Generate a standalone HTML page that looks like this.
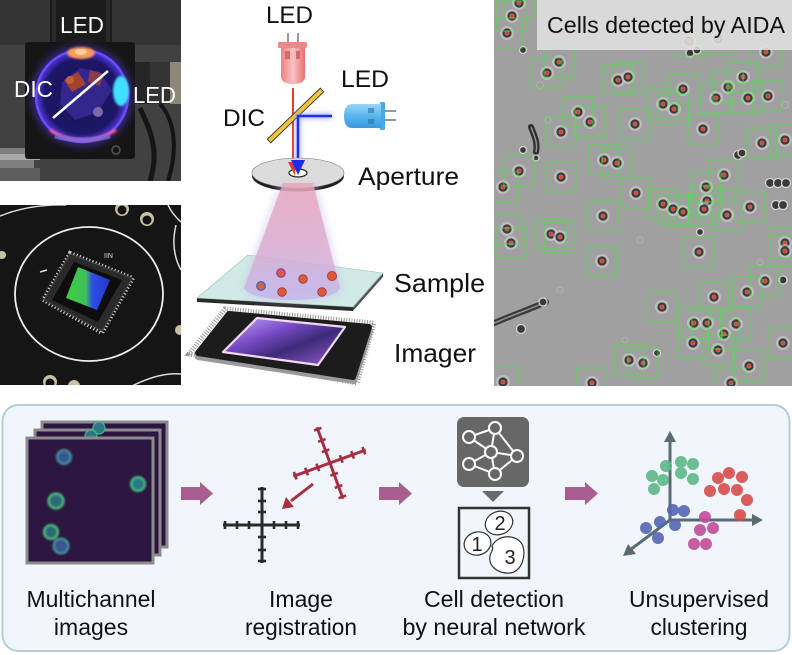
<!DOCTYPE html>
<html><head><meta charset="utf-8"><style>
html,body{margin:0;padding:0;background:#fff;}
svg{display:block;}
text{font-family:"Liberation Sans",sans-serif;}
</style></head><body>
<svg width="792" height="655" viewBox="0 0 792 655" xmlns="http://www.w3.org/2000/svg">
<defs>
 <filter id="b1" x="-50%" y="-50%" width="200%" height="200%"><feGaussianBlur stdDeviation="1"/></filter>
 <filter id="b2" x="-50%" y="-50%" width="200%" height="200%"><feGaussianBlur stdDeviation="2"/></filter>
 <filter id="b4" x="-50%" y="-50%" width="200%" height="200%"><feGaussianBlur stdDeviation="4"/></filter>
 <linearGradient id="cone" x1="0" y1="0" x2="0" y2="1">
  <stop offset="0" stop-color="#eba3b4"/>
  <stop offset="0.6" stop-color="#d9acd0"/>
  <stop offset="1" stop-color="#c2b6ee"/>
 </linearGradient>
 <linearGradient id="redled" x1="0" y1="0" x2="1" y2="0">
  <stop offset="0" stop-color="#ee8080"/>
  <stop offset="0.5" stop-color="#f9c2c0"/>
  <stop offset="1" stop-color="#e87070"/>
 </linearGradient>
 <linearGradient id="blueled" x1="0" y1="0" x2="0" y2="1">
  <stop offset="0" stop-color="#9ad6f8"/>
  <stop offset="0.5" stop-color="#58b6ee"/>
  <stop offset="1" stop-color="#3a98dc"/>
 </linearGradient>
 <linearGradient id="sensor" x1="0" y1="0" x2="1" y2="1">
  <stop offset="0" stop-color="#c8b0f4"/>
  <stop offset="0.35" stop-color="#7a4cc8"/>
  <stop offset="0.6" stop-color="#3c2a78"/>
  <stop offset="1" stop-color="#9a60d0"/>
 </linearGradient>
 <linearGradient id="chipsens" x1="0" y1="0" x2="1" y2="0">
  <stop offset="0" stop-color="#3ccf3c"/>
  <stop offset="0.45" stop-color="#3fbf5a"/>
  <stop offset="0.6" stop-color="#2d4ee6"/>
  <stop offset="1" stop-color="#2436c8"/>
 </linearGradient>
 <radialGradient id="win" cx="0.5" cy="0.5" r="0.5">
  <stop offset="0" stop-color="#1a1550"/>
  <stop offset="0.8" stop-color="#1c1668"/>
  <stop offset="1" stop-color="#5a3cf0"/>
 </radialGradient>
 <g id="cl">
  <circle r="7" fill="#d6d6d6" opacity="0.55"/>
  <circle r="4.6" fill="#3b3b3b"/>
  <circle r="2.4" fill="#858585"/>
  <circle r="1.7" fill="#ff3a1e"/>
 </g>
 <clipPath id="rp"><rect x="494" y="0" width="298" height="386"/></clipPath>
 <clipPath id="p1"><rect x="0" y="0" width="181" height="181"/></clipPath>
 <clipPath id="p2"><rect x="0" y="205" width="181" height="180"/></clipPath>
</defs>

<rect x="0" y="0" width="792" height="655" fill="#fff"/>

<!-- ========== Photo 1 ========== -->
<g clip-path="url(#p1)">
 <rect x="0" y="0" width="181" height="181" fill="#414141"/>
 <rect x="0" y="0" width="181" height="45" fill="#343434"/>
 <rect x="50" y="0" width="62" height="45" fill="#1b1b1b"/>
 <rect x="52" y="0" width="4" height="45" fill="#2a2a2a"/>
 <rect x="106" y="0" width="4" height="45" fill="#2a2a2a"/>
 <rect x="133" y="62" width="48" height="42" fill="#262626"/>
 <rect x="150" y="62" width="20" height="42" fill="#333"/>
 <rect x="170" y="62" width="11" height="42" fill="#8d8777"/>
 <rect x="0" y="148" width="34" height="33" fill="#7e7e7e"/>
 <rect x="0" y="154" width="40" height="6" fill="#a9a9a9"/>
 <rect x="0" y="168" width="40" height="13" fill="#5e5e5e"/>
 <path d="M140 108 C 150 130, 160 150, 150 181" stroke="#151515" stroke-width="5" fill="none"/>
 <path d="M160 104 C 175 120, 178 150, 168 181" stroke="#151515" stroke-width="4" fill="none"/>
 <rect x="25" y="42" width="110" height="117" rx="3" fill="#151515"/>
 <circle cx="116" cy="150" r="4" fill="none" stroke="#555" stroke-width="1.5"/>
 <circle cx="82" cy="96" r="51" fill="#5a3cf0" opacity="0.45" filter="url(#b4)"/>
 <circle cx="82" cy="96" r="47" fill="url(#win)"/>
 <circle cx="82" cy="96" r="46" fill="none" stroke="#6a4cff" stroke-width="2.5"/>
 <path d="M50 130 Q 82 150 116 130" stroke="#ff5a9a" stroke-width="3" fill="none" filter="url(#b1)"/>
 <path d="M55 136 Q 82 144 110 136" stroke="#7a6ad8" stroke-width="5" fill="none" opacity="0.8"/>
 <path d="M62 82 L 80 68 L 100 72 L 112 90 L 98 112 L 75 120 L 60 104 Z" fill="#3a2a9a" opacity="0.8"/>
 <path d="M64 80 L 78 72 L 86 84 L 72 92 Z" fill="#a0422e"/>
 <path d="M90 70 L 104 74 L 100 86 L 88 82 Z" fill="#8a3a4a"/>
 <circle cx="98" cy="112" r="5" fill="#7a6aa8"/>
 <circle cx="70" cy="80" r="4" fill="#c0603a"/>
 <ellipse cx="81" cy="53" rx="14" ry="6" fill="#ff9a5a" filter="url(#b1)"/>
 <ellipse cx="81" cy="52" rx="6" ry="3" fill="#ffd0a0"/>
 <ellipse cx="121" cy="91" rx="8" ry="15" fill="#3fe0ff" filter="url(#b1)"/>
 <line x1="53" y1="118" x2="108" y2="71" stroke="#fff" stroke-width="2.5"/>
 <text x="60" y="33" font-size="23" fill="#fff" textLength="44" lengthAdjust="spacingAndGlyphs">LED</text>
 <text x="14" y="97" font-size="23" fill="#fff" textLength="39" lengthAdjust="spacingAndGlyphs">DIC</text>
 <text x="133" y="103" font-size="23" fill="#fff" textLength="43" lengthAdjust="spacingAndGlyphs">LED</text>
</g>

<!-- ========== Photo 2 ========== -->
<g clip-path="url(#p2)">
 <rect x="0" y="205" width="181" height="180" fill="#151515"/>
 <ellipse cx="89" cy="294" rx="74" ry="67" fill="none" stroke="#eee" stroke-width="1.8"/>
 <path d="M0 216 Q 30 204 66 205" stroke="#ddd" stroke-width="1.5" fill="none"/>
 <path d="M168 205 Q 172 214 181 222" stroke="#ddd" stroke-width="1.5" fill="none"/>
 <path d="M176 225 Q 170 250 181 270" stroke="#ddd" stroke-width="1.5" fill="none"/>
 <path d="M132 386 Q 160 372 181 374" stroke="#ddd" stroke-width="1.5" fill="none"/>
 <circle cx="122" cy="209" r="7" fill="#c8c0a0"/><circle cx="122" cy="210" r="4.5" fill="#111"/>
 <circle cx="147" cy="219" r="7" fill="#c8c0a0"/><circle cx="147" cy="220" r="4.5" fill="#111"/>
 <circle cx="50" cy="382" r="7" fill="#c8c0a0"/><circle cx="50" cy="383" r="4.5" fill="#111"/>
 <circle cx="74" cy="386" r="6" fill="#c8c0a0"/>
 <circle cx="180" cy="330" r="5" fill="#c8c0a0"/>
 <circle cx="2" cy="255" r="4" fill="#c8c0a0"/>
 <polygon points="70,253 133,278 102,333 43,300" fill="none" stroke="#cfcfcf" stroke-width="4" stroke-dasharray="1.2 2.2"/>
 <polygon points="70,254 132,278 102,331 44,300" fill="#2a2a2a" stroke="#444" stroke-width="1"/>
 <polygon points="74,262 122,280 98,322 52,300" fill="#0d0d0d"/>
 <polygon points="78,267 110,280 97,310 66,298" fill="url(#chipsens)"/>
 <text x="104" y="258" font-size="7" fill="#ddd">IIN</text>
 <path d="M40 272 L 47 270" stroke="#ddd" stroke-width="1.5"/>
</g>

<!-- ========== Middle schematic ========== -->
<text x="266" y="23" font-size="24" fill="#111" textLength="47" lengthAdjust="spacingAndGlyphs">LED</text>
<line x1="288" y1="33" x2="288" y2="43" stroke="#777" stroke-width="1.5"/>
<line x1="298" y1="33" x2="298" y2="43" stroke="#777" stroke-width="1.5"/>
<rect x="278" y="42" width="29" height="6" rx="1.5" fill="#ee8888"/>
<path d="M281 48 L281 76 Q281 84 293 84 Q305 84 305 76 L305 48 Z" fill="url(#redled)"/>
<rect x="285" y="51" width="5" height="8" fill="#c06060" opacity="0.8"/>
<rect x="296" y="51" width="4" height="8" fill="#c06060" opacity="0.8"/>

<line x1="293" y1="88" x2="293" y2="170" stroke="#f5a5a5" stroke-width="8" filter="url(#b2)" opacity="0.8"/>
<line x1="293" y1="88" x2="293" y2="166" stroke="#ef3a28" stroke-width="2"/>

<text x="341" y="87" font-size="24" fill="#111" textLength="48" lengthAdjust="spacingAndGlyphs">LED</text>
<rect x="380" y="102" width="5" height="28" rx="1.5" fill="#4aa8e4"/>
<path d="M381 104 L352 104 Q344 104 344 116 Q344 128 352 128 L381 128 Z" fill="url(#blueled)"/>
<rect x="368" y="108" width="6" height="5" fill="#3070a8" opacity="0.6"/>
<rect x="368" y="119" width="6" height="5" fill="#3070a8" opacity="0.6"/>
<line x1="385" y1="111" x2="396" y2="111" stroke="#777" stroke-width="1.5"/>
<line x1="385" y1="120" x2="396" y2="120" stroke="#777" stroke-width="1.5"/>

<text x="223" y="126" font-size="24" fill="#111" textLength="42" lengthAdjust="spacingAndGlyphs">DIC</text>
<polygon points="270.7,142.8 267.3,139.2 320.3,88.2 323.7,91.8" fill="#f3c53a" stroke="#333" stroke-width="0.9"/>

<path d="M332 116 L298 116 L298 162" stroke="#8a90ff" stroke-width="6" fill="none" filter="url(#b2)" opacity="0.6"/>
<path d="M332 116 L298 116 L298 162" stroke="#1a2ef0" stroke-width="2.5" fill="none"/>

<!-- Aperture -->
<ellipse cx="298" cy="176" rx="46" ry="15.5" fill="#1e1e1e"/>
<ellipse cx="298" cy="173" rx="46" ry="15" fill="#dcdcdc" stroke="#777" stroke-width="0.6"/>
<ellipse cx="298" cy="173" rx="9" ry="4" fill="#fff" stroke="#222" stroke-width="1.2"/>
<polygon points="288,162 295,162 295,176" fill="#e53a30"/>
<polygon points="291,160 305,160 298,175" fill="#1a2ef0"/>
<text x="358" y="185" font-size="25" fill="#111" textLength="101" lengthAdjust="spacingAndGlyphs">Aperture</text>

<!-- Imager -->
<polygon points="189,354 225,309 374,323 357,383" fill="none" stroke="#999" stroke-width="5" stroke-dasharray="1 1.6"/>
<polygon points="198,357 229,318 370,331 354,381" fill="#9a9a9a" stroke="#9a9a9a" stroke-width="6" stroke-linejoin="round"/>
<polygon points="198,353 229,314 369,327 353,377" fill="#1c1c1c" stroke="#1c1c1c" stroke-width="6" stroke-linejoin="round"/>
<polygon points="257,318 345,327 318,365 223,352" fill="url(#sensor)" stroke="#f2d8f4" stroke-width="2.2" stroke-linejoin="round"/>
<text x="394" y="362" font-size="26" fill="#111" textLength="82" lengthAdjust="spacingAndGlyphs">Imager</text>

<!-- Sample glass -->
<polygon points="197,298 353,307 353,311 197,302" fill="#2a2a2a"/>
<polygon points="383,273 353,307 353,311 383,277" fill="#555"/>
<polygon points="248,255 383,273 353,307 197,298" fill="#cdeae3" opacity="0.92" stroke="#8fb8b0" stroke-width="0.6"/>

<!-- Cone -->
<path d="M280 184 L316 184 L342 288 C 338 306, 248 306, 242 288 Z" fill="#c9b7f0" opacity="0.5" filter="url(#b4)"/>
<path d="M283 183 L313 183 L340 288 C 335 304, 250 304, 244 288 Z" fill="url(#cone)" opacity="0.78"/>
<ellipse cx="298" cy="176" rx="46" ry="15.5" fill="none"/>

<text x="394" y="292" font-size="26" fill="#111" textLength="91" lengthAdjust="spacingAndGlyphs">Sample</text>

<g stroke="#a33" stroke-width="0.8">
 <circle cx="261" cy="286" r="4.3" fill="#d9603a" stroke="#3a6ac0" stroke-width="1.3"/>
 <circle cx="281" cy="273" r="4.3" fill="#d85a3c" stroke="#8a3ab0" stroke-width="1.1"/>
 <circle cx="303" cy="279" r="4.3" fill="#d85a3c"/>
 <circle cx="332" cy="276" r="4.6" fill="#e0583a"/>
 <circle cx="282" cy="292" r="4.3" fill="#d85a3c"/>
 <circle cx="322" cy="292" r="4.3" fill="#d85a3c"/>
</g>

<!-- ========== Right photo ========== -->
<g clip-path="url(#rp)">
 <rect x="494" y="0" width="298" height="386" fill="#a0a0a0"/>
 <!-- debris / unboxed cells -->
 <path d="M531 127 C 534 135, 538 142, 536 152" stroke="#2e2e2e" stroke-width="6" fill="none" stroke-linecap="round"/>
 <path d="M531 127 C 534 135, 538 142, 536 152" stroke="#d8d8d8" stroke-width="1.5" fill="none" opacity="0.6"/>
 <path d="M492 324 C 510 316, 528 310, 546 302" stroke="#3a3a3a" stroke-width="6" fill="none" stroke-linecap="round"/>
 <path d="M492 324 C 510 316, 528 310, 546 302" stroke="#d0d0d0" stroke-width="1.5" fill="none" opacity="0.6"/>
 <g fill="#3a3a3a" stroke="#d4d4d4" stroke-width="1.3">
  <circle cx="770" cy="183" r="4.5"/><circle cx="778" cy="183" r="4.5"/><circle cx="786" cy="183" r="4.5"/>
  <circle cx="776" cy="205" r="4.5"/><circle cx="783" cy="205" r="4.5"/>
  <circle cx="738" cy="155" r="4.5"/><circle cx="742" cy="153" r="4"/>
  <circle cx="690" cy="53" r="4"/><circle cx="697" cy="50" r="4"/>
  <circle cx="521" cy="329" r="4.5"/><circle cx="543" cy="302" r="4"/>
  <circle cx="700" cy="232" r="3.5"/><circle cx="523" cy="150" r="3.5"/>
  <circle cx="536" cy="158" r="3"/><circle cx="523" cy="50" r="3.5"/>
  <circle cx="783" cy="280" r="4"/>
  <circle cx="657" cy="353" r="3.5"/>
 </g>
 <g fill="none" stroke="#bcbcbc" stroke-width="0.8" opacity="0.8">
  <circle cx="540" cy="85" r="3.5"/><circle cx="600" cy="20" r="3.5"/><circle cx="785" cy="105" r="3.5"/>
  <circle cx="650" cy="40" r="3"/><circle cx="560" cy="290" r="3"/><circle cx="625" cy="340" r="3"/>
  <circle cx="760" cy="262" r="3"/><circle cx="548" cy="120" r="3"/><circle cx="640" cy="240" r="3"/>
 </g>
 <g>
  <use href="#cl" x="519" y="3"/><use href="#cl" x="512" y="16"/><use href="#cl" x="507" y="33"/>
  <use href="#cl" x="559" y="62"/><use href="#cl" x="547" y="73"/><use href="#cl" x="618" y="80"/>
  <use href="#cl" x="628" y="77"/><use href="#cl" x="683" y="89"/><use href="#cl" x="663" y="104"/>
  <use href="#cl" x="674" y="109"/><use href="#cl" x="716" y="98"/><use href="#cl" x="728" y="87"/>
  <use href="#cl" x="743" y="77"/><use href="#cl" x="748" y="98"/><use href="#cl" x="768" y="96"/>
  <use href="#cl" x="766" y="52"/><use href="#cl" x="689" y="41"/><use href="#cl" x="718" y="39"/>
  <use href="#cl" x="578" y="112"/><use href="#cl" x="590" y="122"/><use href="#cl" x="561" y="132"/>
  <use href="#cl" x="635" y="124"/><use href="#cl" x="703" y="129"/><use href="#cl" x="762" y="143"/>
  <use href="#cl" x="785" y="140"/><use href="#cl" x="604" y="160"/><use href="#cl" x="617" y="163"/>
  <use href="#cl" x="519" y="171"/><use href="#cl" x="561" y="177"/><use href="#cl" x="503" y="187"/>
  <use href="#cl" x="636" y="193"/><use href="#cl" x="724" y="175"/><use href="#cl" x="706" y="187"/>
  <use href="#cl" x="707" y="201"/><use href="#cl" x="704" y="209"/><use href="#cl" x="727" y="215"/>
  <use href="#cl" x="750" y="207"/><use href="#cl" x="663" y="204"/><use href="#cl" x="673" y="209"/>
  <use href="#cl" x="683" y="212"/><use href="#cl" x="603" y="216"/><use href="#cl" x="507" y="229"/>
  <use href="#cl" x="511" y="243"/><use href="#cl" x="551" y="234"/><use href="#cl" x="560" y="237"/>
  <use href="#cl" x="602" y="261"/><use href="#cl" x="699" y="252"/><use href="#cl" x="785" y="243"/>
  <use href="#cl" x="785" y="251"/><use href="#cl" x="765" y="281"/><use href="#cl" x="747" y="292"/>
  <use href="#cl" x="714" y="297"/><use href="#cl" x="662" y="307"/><use href="#cl" x="694" y="323"/>
  <use href="#cl" x="707" y="323"/><use href="#cl" x="736" y="324"/><use href="#cl" x="724" y="334"/>
  <use href="#cl" x="693" y="343"/><use href="#cl" x="718" y="350"/><use href="#cl" x="783" y="343"/>
  <use href="#cl" x="629" y="360"/><use href="#cl" x="643" y="363"/><use href="#cl" x="749" y="366"/>
  <use href="#cl" x="503" y="382"/><use href="#cl" x="592" y="383"/><use href="#cl" x="731" y="383"/>
 </g>
 <g fill="none" stroke="#4fe04f" stroke-width="0.9" opacity="0.85">
  <rect x="504" y="-12" width="30" height="30"/><rect x="497" y="1" width="30" height="30"/><rect x="492" y="18" width="30" height="30"/>
  <rect x="544" y="47" width="30" height="30"/><rect x="532" y="58" width="30" height="30"/><rect x="603" y="65" width="30" height="30"/>
  <rect x="613" y="62" width="30" height="30"/><rect x="668" y="74" width="30" height="30"/><rect x="648" y="89" width="30" height="30"/>
  <rect x="659" y="94" width="30" height="30"/><rect x="701" y="83" width="30" height="30"/><rect x="713" y="72" width="30" height="30"/>
  <rect x="728" y="62" width="30" height="30"/><rect x="733" y="83" width="30" height="30"/><rect x="753" y="81" width="30" height="30"/>
  <rect x="751" y="37" width="30" height="30"/><rect x="674" y="26" width="30" height="30"/><rect x="703" y="24" width="30" height="30"/>
  <rect x="563" y="97" width="30" height="30"/><rect x="575" y="107" width="30" height="30"/><rect x="546" y="117" width="30" height="30"/>
  <rect x="620" y="109" width="30" height="30"/><rect x="688" y="114" width="30" height="30"/><rect x="747" y="128" width="30" height="30"/>
  <rect x="770" y="125" width="30" height="30"/><rect x="589" y="145" width="30" height="30"/><rect x="602" y="148" width="30" height="30"/>
  <rect x="504" y="156" width="30" height="30"/><rect x="546" y="162" width="30" height="30"/><rect x="488" y="172" width="30" height="30"/>
  <rect x="621" y="178" width="30" height="30"/><rect x="709" y="160" width="30" height="30"/><rect x="691" y="172" width="30" height="30"/>
  <rect x="692" y="186" width="30" height="30"/><rect x="689" y="194" width="30" height="30"/><rect x="712" y="200" width="30" height="30"/>
  <rect x="735" y="192" width="30" height="30"/><rect x="648" y="189" width="30" height="30"/><rect x="658" y="194" width="30" height="30"/>
  <rect x="668" y="197" width="30" height="30"/><rect x="588" y="201" width="30" height="30"/><rect x="492" y="214" width="30" height="30"/>
  <rect x="496" y="228" width="30" height="30"/><rect x="536" y="219" width="30" height="30"/><rect x="545" y="222" width="30" height="30"/>
  <rect x="587" y="246" width="30" height="30"/><rect x="684" y="237" width="30" height="30"/><rect x="770" y="228" width="30" height="30"/>
  <rect x="770" y="236" width="30" height="30"/><rect x="750" y="266" width="30" height="30"/><rect x="732" y="277" width="30" height="30"/>
  <rect x="699" y="282" width="30" height="30"/><rect x="647" y="292" width="30" height="30"/><rect x="679" y="308" width="30" height="30"/>
  <rect x="692" y="308" width="30" height="30"/><rect x="721" y="309" width="30" height="30"/><rect x="709" y="319" width="30" height="30"/>
  <rect x="678" y="328" width="30" height="30"/><rect x="703" y="335" width="30" height="30"/><rect x="768" y="328" width="30" height="30"/>
  <rect x="614" y="345" width="30" height="30"/><rect x="628" y="348" width="30" height="30"/><rect x="734" y="351" width="30" height="30"/>
  <rect x="488" y="367" width="30" height="30"/><rect x="577" y="368" width="30" height="30"/><rect x="716" y="368" width="30" height="30"/>
 </g>
 <rect x="537" y="0" width="255" height="50" fill="#e0e0e0" opacity="0.88"/>
 <text x="547" y="33" font-size="23" fill="#111" textLength="238" lengthAdjust="spacingAndGlyphs">Cells detected by AIDA</text>
</g>

<!-- ========== Bottom panel ========== -->
<rect x="2.5" y="405" width="787" height="246" rx="16" fill="#f1f6fd" stroke="#b3cdd8" stroke-width="2"/>

<!-- Multichannel images -->
<rect x="42" y="422" width="125" height="125" fill="#2c1540" stroke="#8c8c8c" stroke-width="3"/>
<rect x="35" y="430" width="125" height="125" fill="#2c1540" stroke="#8c8c8c" stroke-width="3"/>
<circle cx="99" cy="428" r="6" fill="#2a7a80" stroke="#4ab0a0" stroke-width="1.2"/>
<circle cx="91" cy="436" r="6" fill="#2a7a80" stroke="#4ab0a0" stroke-width="1.2"/>
<rect x="27" y="438" width="126" height="125" fill="#2c1540" stroke="#8c8c8c" stroke-width="3"/>
<g filter="url(#b1)">
 <circle cx="64" cy="457" r="7" fill="#34588e" stroke="#48a0a0" stroke-width="1.8"/>
 <circle cx="138" cy="484" r="7" fill="#287a80" stroke="#50d08e" stroke-width="1.8"/>
 <circle cx="56" cy="501" r="7.5" fill="#2c6a74" stroke="#5ad480" stroke-width="1.8"/>
 <circle cx="51" cy="532" r="7" fill="#2c6a74" stroke="#5ad480" stroke-width="1.8"/>
 <circle cx="61" cy="546" r="7.5" fill="#34588e" stroke="#48a8a0" stroke-width="1.8"/>
</g>
<text x="91" y="607" font-size="23" fill="#111" text-anchor="middle" textLength="129" lengthAdjust="spacingAndGlyphs">Multichannel</text>
<text x="91" y="635" font-size="23" fill="#111" text-anchor="middle">images</text>

<!-- arrows -->
<g fill="#a85f8f">
 <polygon points="181,487 200,487 200,482 213,493.5 200,505 200,500 181,500"/>
 <polygon points="379,487 399,487 399,482 412,493.5 399,505 399,500 379,500"/>
 <polygon points="565,487 585,487 585,482 598,493.5 585,505 585,500 565,500"/>
</g>

<!-- Registration -->
<g id="crossb" transform="translate(262,525)" stroke="#2a2a2a" stroke-width="3" fill="none">
 <line x1="-39" y1="0" x2="38" y2="0"/>
 <line x1="0" y1="-38" x2="0" y2="38"/>
 <g stroke-width="2.6">
  <line x1="-37" y1="-4" x2="-37" y2="4"/><line x1="-25" y1="-4" x2="-25" y2="4"/><line x1="-13" y1="-4" x2="-13" y2="4"/>
  <line x1="12" y1="-4" x2="12" y2="4"/><line x1="24" y1="-4" x2="24" y2="4"/><line x1="36" y1="-4" x2="36" y2="4"/>
  <line x1="-4" y1="-36" x2="4" y2="-36"/><line x1="-4" y1="-24" x2="4" y2="-24"/><line x1="-4" y1="-13" x2="4" y2="-13"/>
  <line x1="-4" y1="12" x2="4" y2="12"/><line x1="-4" y1="25" x2="4" y2="25"/><line x1="-4" y1="36" x2="4" y2="36"/>
 </g>
</g>
<g transform="translate(330,463) rotate(-20)" stroke="#a52f40" stroke-width="3" fill="none">
 <line x1="-39" y1="0" x2="38" y2="0"/>
 <line x1="0" y1="-38" x2="0" y2="38"/>
 <g stroke-width="2.6">
  <line x1="-37" y1="-4" x2="-37" y2="4"/><line x1="-25" y1="-4" x2="-25" y2="4"/><line x1="-13" y1="-4" x2="-13" y2="4"/>
  <line x1="12" y1="-4" x2="12" y2="4"/><line x1="24" y1="-4" x2="24" y2="4"/><line x1="36" y1="-4" x2="36" y2="4"/>
  <line x1="-4" y1="-36" x2="4" y2="-36"/><line x1="-4" y1="-24" x2="4" y2="-24"/><line x1="-4" y1="-13" x2="4" y2="-13"/>
  <line x1="-4" y1="12" x2="4" y2="12"/><line x1="-4" y1="25" x2="4" y2="25"/><line x1="-4" y1="36" x2="4" y2="36"/>
 </g>
</g>
<line x1="313" y1="484" x2="291" y2="501" stroke="#a52f40" stroke-width="3"/>
<polygon points="282,509 286,497 294,507" fill="#a52f40"/>
<text x="301" y="607" font-size="23" fill="#111" text-anchor="middle">Image</text>
<text x="301" y="635" font-size="23" fill="#111" text-anchor="middle" textLength="112" lengthAdjust="spacingAndGlyphs">registration</text>

<!-- Neural network -->
<rect x="457" y="417" width="72" height="70" rx="7" fill="#676767"/>
<g stroke="#fff" stroke-width="2" fill="none">
 <line x1="469" y1="437" x2="495" y2="428"/>
 <line x1="495" y1="428" x2="491" y2="452"/>
 <line x1="495" y1="428" x2="517" y2="456"/>
 <line x1="469" y1="464" x2="491" y2="452"/>
 <line x1="491" y1="452" x2="517" y2="456"/>
 <line x1="491" y1="452" x2="495" y2="474"/>
 <line x1="469" y1="464" x2="495" y2="474"/>
 <line x1="517" y1="456" x2="495" y2="474"/>
 <line x1="469" y1="437" x2="491" y2="452"/>
</g>
<g stroke="#fff" stroke-width="2" fill="#676767">
 <circle cx="469" cy="437" r="6"/><circle cx="495" cy="428" r="6"/><circle cx="491" cy="452" r="6"/>
 <circle cx="517" cy="456" r="6"/><circle cx="469" cy="464" r="6"/><circle cx="495" cy="474" r="6"/>
</g>
<polygon points="482,491 504,491 493,502" fill="#6a6a6a"/>
<rect x="459" y="508" width="70" height="70" fill="none" stroke="#333" stroke-width="2.5"/>
<g fill="#fff" stroke="#333" stroke-width="1.2">
 <ellipse cx="477.5" cy="543.5" rx="13.5" ry="11.5" transform="rotate(-15 477.5 543.5)"/>
 <ellipse cx="499" cy="523" rx="14" ry="11.5" transform="rotate(-20 499 523)"/>
 <path d="M492 546 C 498 534, 516 534, 522 544 C 527 554, 522 572, 510 573 C 498 574, 488 566, 490 556 C 491 551, 494 550, 492 546 Z"/>
</g>
<g font-size="20" fill="#222" text-anchor="middle">
 <text x="477" y="551">1</text>
 <text x="500" y="530">2</text>
 <text x="510" y="564">3</text>
</g>
<text x="494" y="607" font-size="23" fill="#111" text-anchor="middle" textLength="140" lengthAdjust="spacingAndGlyphs">Cell detection</text>
<text x="494" y="635" font-size="23" fill="#111" text-anchor="middle" textLength="183" lengthAdjust="spacingAndGlyphs">by neural network</text>

<!-- Clustering -->
<g stroke="#596a73" stroke-width="3" fill="none">
 <line x1="670" y1="521" x2="670" y2="440"/>
 <line x1="669" y1="520" x2="755" y2="520"/>
 <line x1="670" y1="520" x2="630" y2="550"/>
</g>
<g fill="#596a73">
 <polygon points="670,431 664,442 676,442"/>
 <polygon points="763,520 752,514 752,526"/>
 <polygon points="623,556 628,544 636,554"/>
</g>
<g opacity="0.9">
 <g fill="#5cb887">
  <circle cx="666" cy="466" r="6"/><circle cx="681" cy="462" r="6"/><circle cx="693" cy="464" r="6"/>
  <circle cx="652" cy="476" r="6"/><circle cx="663" cy="480" r="6"/><circle cx="681" cy="473" r="6"/>
  <circle cx="693" cy="479" r="6"/><circle cx="654" cy="489" r="6"/>
 </g>
 <g fill="#d84c4c">
  <circle cx="729" cy="473" r="6"/><circle cx="718" cy="478" r="6"/><circle cx="742" cy="477" r="6"/>
  <circle cx="710" cy="491" r="6"/><circle cx="724" cy="489" r="6"/><circle cx="737" cy="490" r="6"/>
  <circle cx="747" cy="500" r="6"/><circle cx="740" cy="515" r="6"/>
 </g>
 <g fill="#5466b4">
  <circle cx="673" cy="510" r="6"/><circle cx="684" cy="511" r="6"/><circle cx="646" cy="528" r="6"/>
  <circle cx="660" cy="522" r="6"/><circle cx="675" cy="525" r="6"/><circle cx="658" cy="538" r="6"/>
 </g>
 <g fill="#c14d9c">
  <circle cx="705" cy="517" r="6"/><circle cx="713" cy="528" r="6"/><circle cx="700" cy="530" r="6"/>
  <circle cx="694" cy="544" r="6"/><circle cx="706" cy="544" r="6"/>
 </g>
</g>
<text x="699" y="607" font-size="23" fill="#111" text-anchor="middle" textLength="140" lengthAdjust="spacingAndGlyphs">Unsupervised</text>
<text x="699" y="635" font-size="23" fill="#111" text-anchor="middle" textLength="97" lengthAdjust="spacingAndGlyphs">clustering</text>
</svg>
</body></html>
